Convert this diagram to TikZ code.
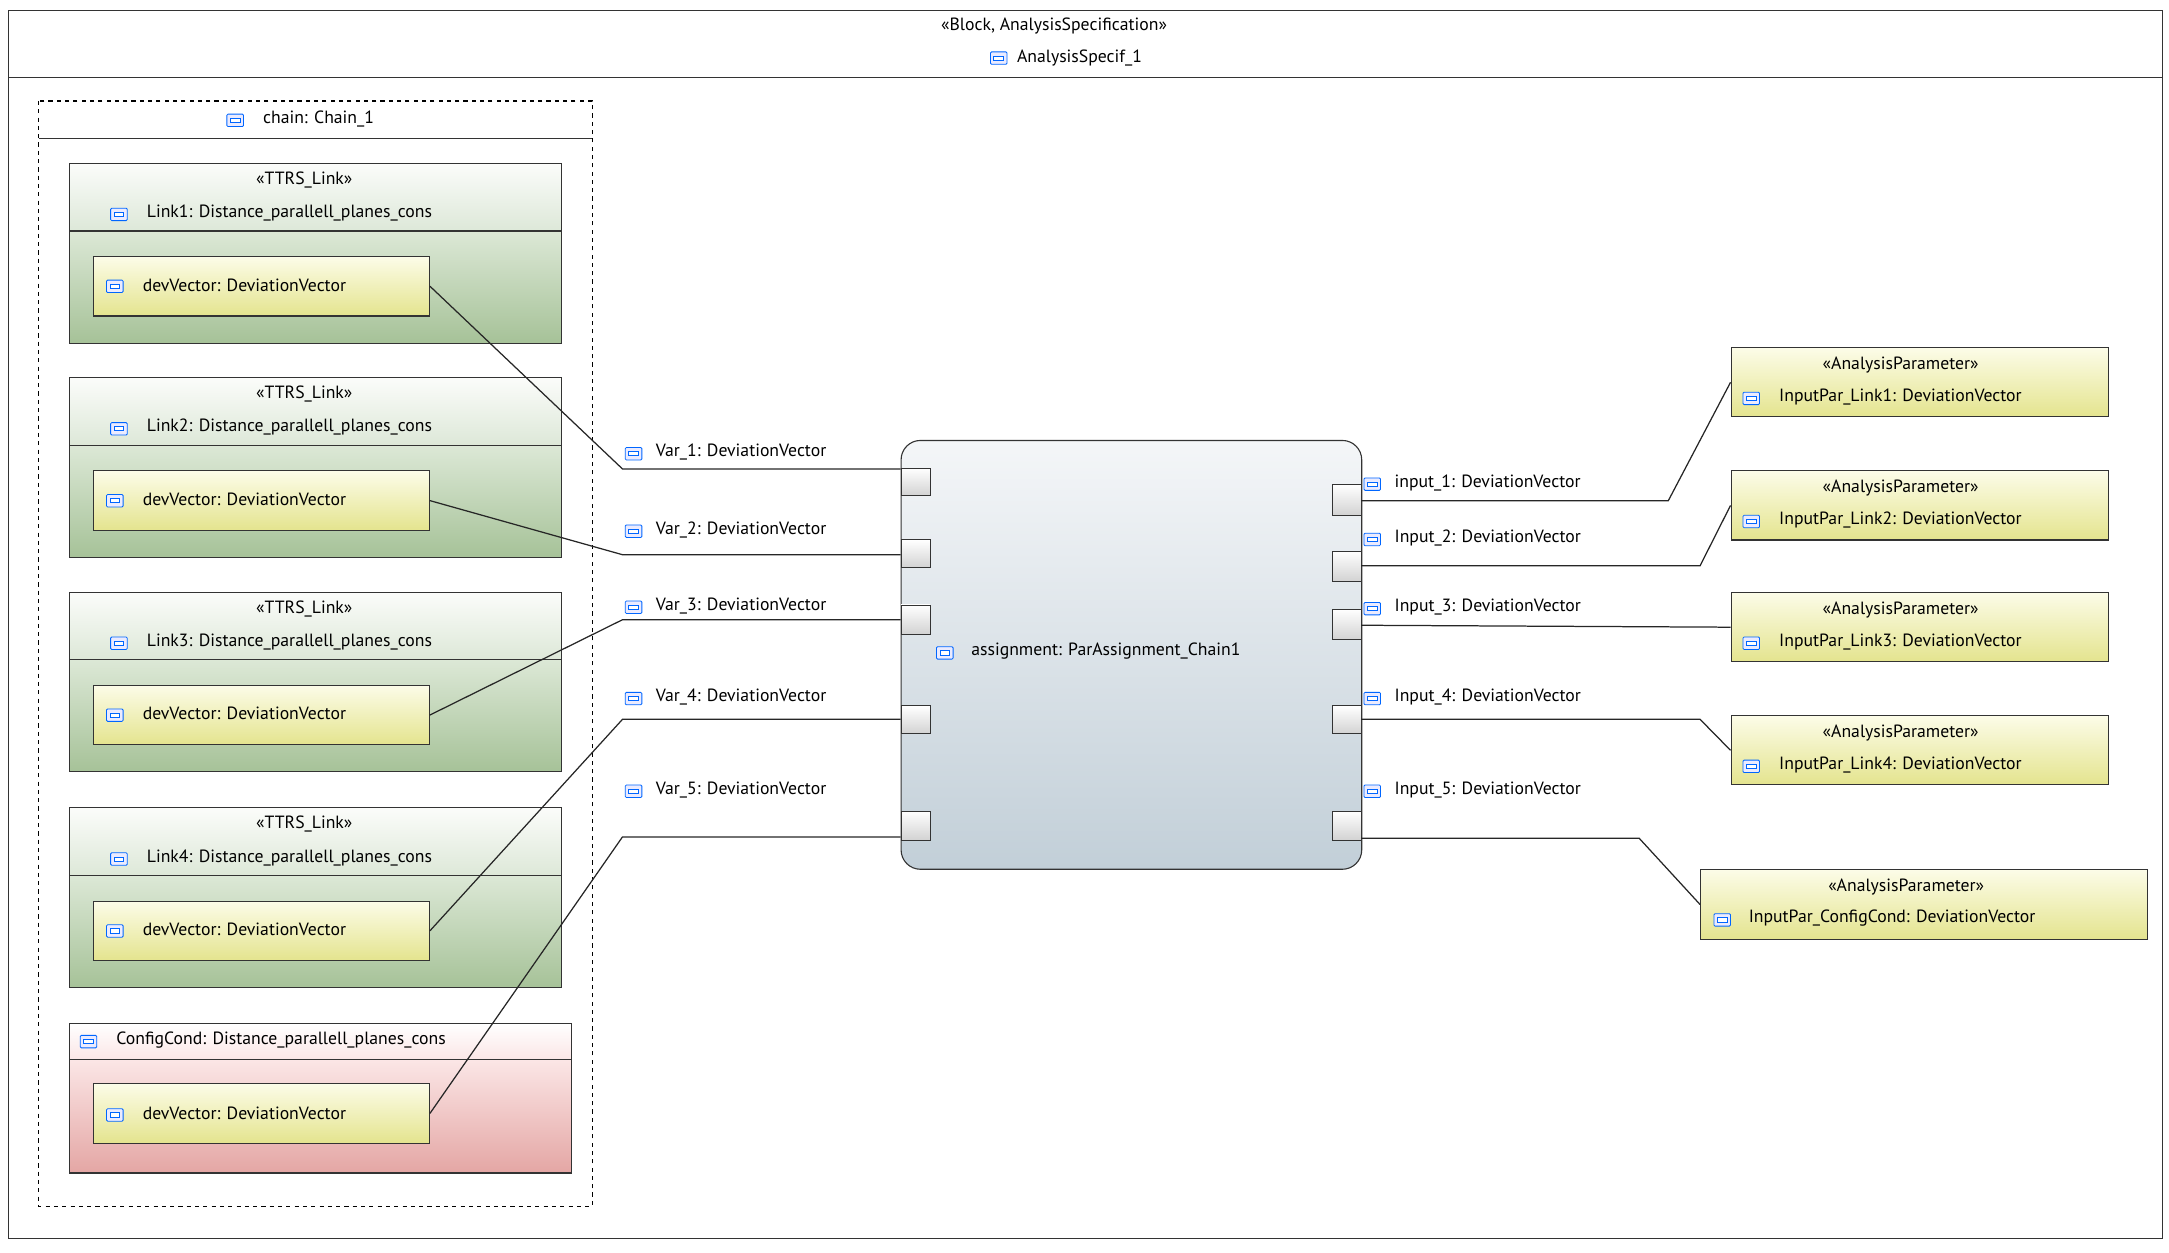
\documentclass[tikz,border=0pt]{standalone}
\usepackage{fontspec}
\setmainfont{PT Sans}
\definecolor{gtop}{HTML}{DCE8D6}
\definecolor{gbot}{HTML}{A6C298}
\definecolor{htop}{HTML}{FBFCFA}
\definecolor{hbot}{HTML}{DDE8D8}
\definecolor{ytop}{HTML}{FCFCE8}
\definecolor{ybot}{HTML}{E4E48E}
\definecolor{btop}{HTML}{F4F6F8}
\definecolor{bbot}{HTML}{C2CFD8}
\definecolor{rtop}{HTML}{FBE6E6}
\definecolor{rbot}{HTML}{E4A6A4}
\begin{document}
\begin{tikzpicture}[x=1pt,y=-1pt,
  txt/.style={font=\fontsize{12.8}{15}\selectfont, inner sep=0pt},
  yel/.style={draw=black!80, line width=0.8pt, top color=ytop, bottom color=ybot},
  port/.style={draw=black!80, line width=0.7pt, top color=white, bottom color=gray!35},
  con/.style={line width=0.9pt, black!85}]
\newcommand{\ico}[2]{%
  \draw[blue!60!cyan, line width=0.6pt, fill=blue!8, rounded corners=0.8pt] (#1-6,#2-4.5) rectangle (#1+6,#2+4.5);
  \draw[blue!60!cyan, line width=0.6pt, fill=white] (#1-3.5,#2-1.5) rectangle (#1+3.5,#2+1.5);}
\useasboundingbox (0,0) rectangle (1568,905.1);
% outer frame
\node[draw=black!80, line width=0.8pt, minimum width=1557pt, minimum height=888pt, anchor=north west, inner sep=0pt] (frame) at (6,7) {};
\draw[black!80, line width=0.8pt] (6,56) -- (1563,56);
\node[txt] (st) at (762,19) {«Block, AnalysisSpecification»};
\ico{722}{42}
\node[txt, anchor=west] (an) at (735,42) {AnalysisSpecif\_1};
% chain
\draw[dashed, line width=0.8pt] (28,73) rectangle (428,872);
\draw[black!80, line width=0.8pt] (28,100) -- (428,100);
\ico{170}{87}
\node[txt, anchor=west] (ch) at (190,86) {chain: Chain\_1};
% links
\foreach \t/\nm/\i in {118/Link1/1, 273/Link2/2, 428/Link3/3, 584/Link4/4}{
  \fill[top color=gtop, bottom color=gbot] (50,\t+49) rectangle (406,\t+130);
  \fill[top color=htop, bottom color=hbot] (50,\t) rectangle (406,\t+49);
  \draw[black!80, line width=0.8pt] (50,\t) rectangle (406,\t+130);
  \draw[black!80, line width=0.8pt] (50,\t+49) -- (406,\t+49);
  \node[txt] at (220,\t+12) {«TTRS\_Link»};
  \ico{86}{\t+37}
  \node[txt, anchor=west] at (106,\t+36) {\nm: Distance\_parallell\_planes\_cons};
  \node[yel, anchor=north west, minimum width=243pt, minimum height=43pt, inner sep=0pt] (dv\i) at (67,\t+67) {};
  \ico{83}{\t+89}
  \node[txt, anchor=west] at (103,\t+88) {devVector: DeviationVector};
}
% config cond
\fill[top color=rtop, bottom color=rbot] (50,766) rectangle (413,848);
\fill[top color=white, bottom color=rtop] (50,740) rectangle (413,766);
\draw[black!80, line width=0.8pt] (50,740) rectangle (413,848);
\draw[black!80, line width=0.8pt] (50,766) -- (413,766);
\ico{64}{753}
\node[txt, anchor=west] at (84,752) {ConfigCond: Distance\_parallell\_planes\_cons};
\node[yel, anchor=north west, minimum width=243pt, minimum height=43pt, inner sep=0pt] (dv5) at (67,783) {};
\ico{83}{806}
\node[txt, anchor=west] at (103,805) {devVector: DeviationVector};
% central block
\node[draw=black!80, line width=0.8pt, rounded corners=14pt, top color=btop, bottom color=bbot, minimum width=333pt, minimum height=310pt, anchor=north west, inner sep=0pt] (asg) at (651,318) {};
\ico{683}{472}
\node[txt, anchor=west] at (702,471) {assignment: ParAssignment\_Chain1};
% left ports
\foreach \a/\b/\ly/\i in {338/358/339/1, 390/410/401/2, 437/458/448/3, 510/530/520/4, 586/607/605/5}{
  \node[port, anchor=north west, minimum width=21pt, minimum height=\b-\a, inner sep=0pt] (lp\i) at (651,\a) {};
  \coordinate (lk\i) at (450,\ly);
  \coordinate (le\i) at (651,\ly);
}
\foreach \y/\lab in {327/Var\_1, 383/Var\_2, 438/Var\_3, 504/Var\_4, 571/Var\_5}{
  \ico{458}{\y+1}
  \node[txt, anchor=west] at (474,\y) {\lab: DeviationVector};
}
\draw[con] (dv1.east) -- (lk1) -- (le1);
\draw[con] (dv2.east) -- (lk2) -- (le2);
\draw[con] (dv3.east) -- (lk3) -- (le3);
\draw[con] (dv4.east) -- (lk4) -- (le4);
\draw[con] (dv5.east) -- (lk5) -- (le5);
% right ports
\foreach \a/\b/\ly/\i in {350/372/362/1, 398/420/409/2, 440/462/452/3, 510/530/520/4, 586/607/606/5}{
  \node[port, anchor=north west, minimum width=21pt, minimum height=\b-\a, inner sep=0pt] (rp\i) at (963,\a) {};
  \coordinate (re\i) at (984,\ly);
}
\foreach \y/\lab in {349/input\_1, 389/Input\_2, 439/Input\_3, 504/Input\_4, 571/Input\_5}{
  \ico{992}{\y+1}
  \node[txt, anchor=west] at (1008,\y) {\lab: DeviationVector};
}
% parameters
\foreach \t/\nm/\i in {251/InputPar\_Link1/1, 340/InputPar\_Link2/2, 428/InputPar\_Link3/3, 517/InputPar\_Link4/4}{
  \node[yel, anchor=north west, minimum width=273pt, minimum height=50pt, inner sep=0pt] (p\i) at (1251,\t) {};
  \node[txt] at (1374,\t+13) {«AnalysisParameter»};
  \ico{1266}{\t+37}
  \node[txt, anchor=west] at (1286,\t+36) {\nm: DeviationVector};
}
\node[yel, anchor=north west, minimum width=323pt, minimum height=51pt, inner sep=0pt] (p5) at (1229,628) {};
\node[txt] at (1378,641) {«AnalysisParameter»};
\ico{1245}{665}
\node[txt, anchor=west] at (1264,664) {InputPar\_ConfigCond: DeviationVector};
\coordinate (k1) at (1206,362);
\coordinate (k2) at (1229,409);
\coordinate (k4) at (1229,520);
\coordinate (k5) at (1185,606);
\draw[con] (re1) -- (k1) -- (p1.west);
\draw[con] (re2) -- (k2) -- (p2.west);
\draw[con] (re3) -- (p3.west);
\draw[con] (re4) -- (k4) -- (p4.west);
\draw[con] (re5) -- (k5) -- (p5.west);
\end{tikzpicture}
\end{document}
